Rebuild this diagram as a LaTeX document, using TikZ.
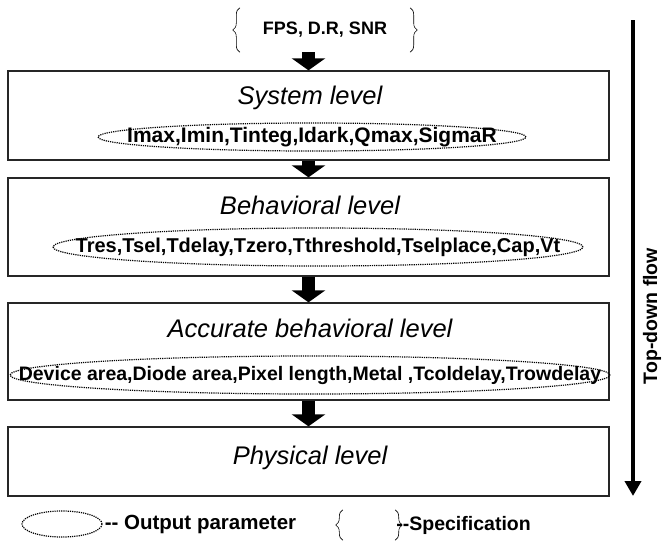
\documentclass[tikz,border=0pt]{standalone}
\usepackage{fontspec}
\setmainfont{Liberation Sans}
\usetikzlibrary{arrows.meta, positioning, shapes.geometric, decorations.pathreplacing}

\begin{document}
\begin{tikzpicture}[x=1pt, y=1pt,
    level/.style={rectangle, draw=black!85, line width=1.3pt, minimum width=601pt, inner sep=0pt},
    title/.style={font=\itshape\fontsize{25.5}{30}\selectfont, inner sep=0pt},
    param/.style={font=\bfseries\fontsize{19.5}{23}\selectfont, inner sep=0pt},
    outline/.style={ellipse, draw, line width=1.2pt, dash pattern=on 1.2pt off 1pt, inner sep=0pt},
    brace/.style={decorate, decoration={brace, amplitude=7pt}, line width=0.6pt},
    bigarrow/.style={-{Triangle[width=33pt, length=12pt]}, line width=13pt},
    flow/.style={-{Triangle[width=16pt, length=15pt]}, line width=4pt}
  ]
    \useasboundingbox (0,0) rectangle (670,-544);
    % specification on top
    \node[param, font=\bfseries\fontsize{18}{22}\selectfont, minimum width=170pt, minimum height=44pt] (spec) at (325,-30) {FPS, D.R, SNR};
    \draw[brace] (spec.south west) -- (spec.north west);
    \draw[brace] (spec.north east) -- (spec.south east);
    % levels
    \node[level, minimum height=89pt] (sys) at (308.5,-115.5) {};
    \node[level, minimum height=98pt] (beh) at (308.5,-227) {};
    \node[level, minimum height=97pt] (acc) at (308.5,-351.5) {};
    \node[level, minimum height=69pt] (phy) at (308.5,-461.5) {};
    \node[title] (systitle) at (310,-98) {System level};
    \node[title] (behtitle) at (310,-205) {Behavioral level};
    \node[title] (acctitle) at (310,-328) {Accurate behavioral level};
    \node[title] (phytitle) at (310,-458) {Physical level};
    % output parameters
    \node[outline, minimum width=428pt, minimum height=28pt] (sysout) at (312,-137) {};
    \node[outline, minimum width=530pt, minimum height=38pt] (behout) at (318,-247) {};
    \node[outline, minimum width=600pt, minimum height=38pt] (accout) at (310,-375) {};
    \node[param, font=\bfseries\fontsize{21}{25}\selectfont] at (sysout) {Imax,Imin,Tinteg,Idark,Qmax,SigmaR};
    \node[param, font=\bfseries\fontsize{20}{24}\selectfont] at (behout) {Tres,Tsel,Tdelay,Tzero,Tthreshold,Tselplace,Cap,Vt};
    \node[param] at (accout) {Device area,Diode area,Pixel length,Metal ,Tcoldelay,Trowdelay};
    % flow between levels
    \draw[bigarrow] (spec.south -| sys.north) -- (sys.north);
    \draw[bigarrow] (sys) -- (beh);
    \draw[bigarrow] (beh) -- (acc);
    \draw[bigarrow] (acc) -- (phy);
    % top-down arrow
    \coordinate (flowtop) at (633,-20);
    \coordinate (flowend) at (633,-496);
    \draw[flow] (flowtop) -- (flowend);
    \node[param, font=\bfseries\fontsize{19.5}{23}\selectfont, rotate=90] (flowlabel) at (652,-316) {Top-down flow};
    % legend
    \node[outline, minimum width=80pt, minimum height=26pt] (outlegend) at (62,-524) {};
    \node[param, font=\bfseries\fontsize{20.5}{24}\selectfont, right=2pt of outlegend] (outtext) {-{}- Output parameter};
    \node[minimum width=52pt, minimum height=30pt, inner sep=0pt] (speclegend) at (369,-525) {};
    \draw[brace] (speclegend.south west) -- (speclegend.north west);
    \draw[brace] (speclegend.north east) -- (speclegend.south east);
    \node[param, right=1pt of speclegend] (spectext) {-{}-Specification};
\end{tikzpicture}
\end{document}
